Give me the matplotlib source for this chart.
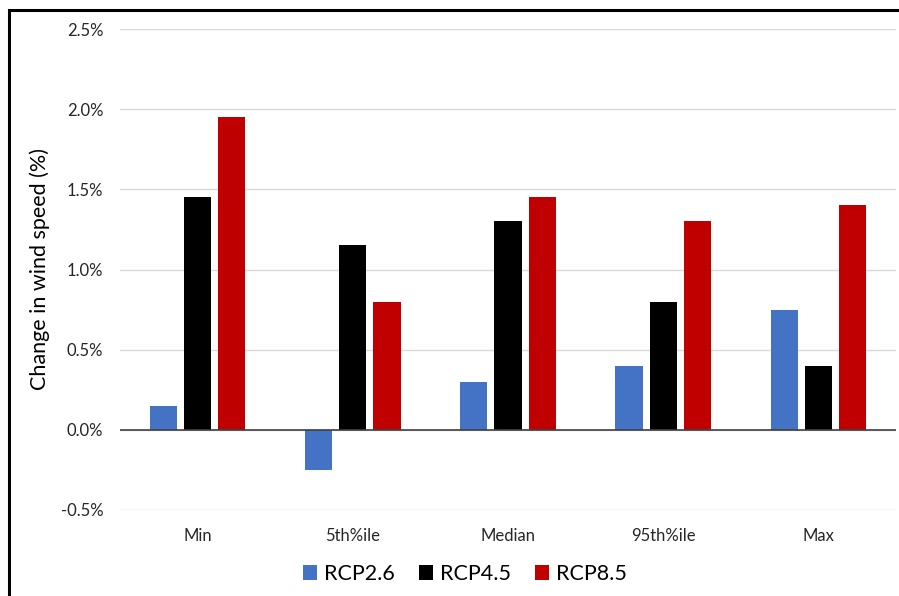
import numpy as np
import matplotlib.pyplot as plt
from matplotlib.patches import Rectangle
from matplotlib.ticker import FuncFormatter

categories = ["Min", "5th%ile", "Median", "95th%ile", "Max"]
series = ["RCP2.6", "RCP4.5", "RCP8.5"]
rcp26 = [0.15, -0.25, 0.30, 0.40, 0.75]
rcp45 = [1.45, 1.15, 1.30, 0.80, 0.40]
rcp85 = [1.95, 0.80, 1.45, 1.30, 1.40]
colors = ["#4472C4", "#000000", "#C00000"]

plt.rcParams['font.family'] = ['Lato', 'DejaVu Sans']

fig = plt.figure(figsize=(8.99, 5.96), dpi=100)
ax = fig.add_axes([120 / 899, 1 - 510 / 596, 776 / 899, 481 / 596])

x = np.arange(len(categories))
width = 0.175
step = 0.22
for i, (vals, name) in enumerate(zip([rcp26, rcp45, rcp85], series)):
    ax.bar(x + (i - 1) * step, vals, width, color=colors[i], label=name, zorder=3)

ax.set_xlim(-0.5, len(categories) - 0.5)
ax.set_ylim(-0.5, 2.5)
ax.set_yticks(np.arange(-0.5, 2.51, 0.5))
ax.yaxis.set_major_formatter(FuncFormatter(lambda v, p: f"{v:.1f}%"))
ax.grid(axis='y', color='#D9D9D9', lw=1, zorder=0)
ax.axhline(0, color='#404040', lw=1.2, zorder=4)
for s in ax.spines.values():
    s.set_visible(False)
ax.tick_params(axis='both', length=0, labelsize=12, labelcolor='#262626')
ax.tick_params(axis='y', pad=12)
ax.set_xticks(x)
ax.set_xticklabels(categories)
ax.tick_params(axis='x', pad=13)
ax.set_ylabel("Change in wind speed (%)", fontsize=15.5, color='#000000', labelpad=8)

ax.legend(loc='center', bbox_to_anchor=(465 / 899, 1 - 574 / 596),
          bbox_transform=fig.transFigure, ncol=3, frameon=False,
          fontsize=15.5, handlelength=0.65, handleheight=0.65,
          handletextpad=0.35, columnspacing=1.1)

# frame around the figure (left and top edges show)
fig.patches.append(Rectangle((9 / 899, -0.2), 2, 1.2 - 10 / 596,
                             transform=fig.transFigure, fill=False,
                             edgecolor='black', lw=2.2))

fig.savefig("out.png", dpi=100)
